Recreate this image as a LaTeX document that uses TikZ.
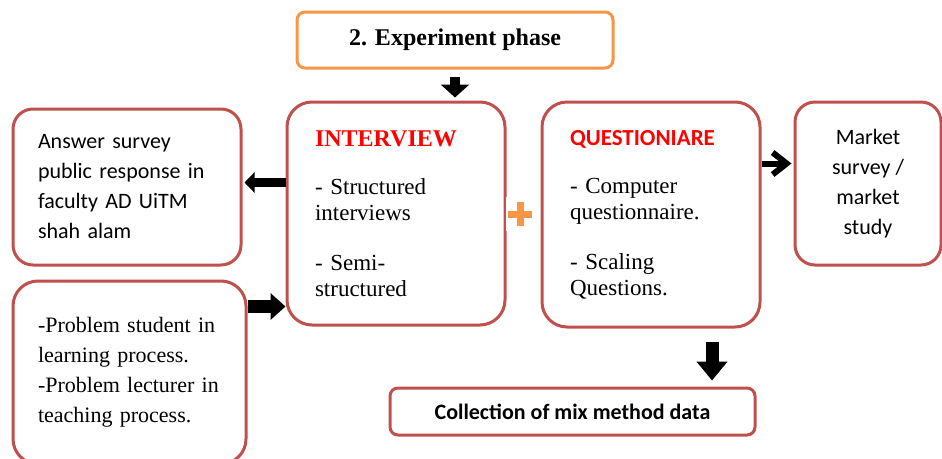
\documentclass[tikz,border=0pt]{standalone}
\usepackage{fontspec}
\setmainfont{Liberation Serif}
\newfontfamily\calib{Carlito}
\usetikzlibrary{arrows.meta}
\definecolor{boxred}{RGB}{192,80,77}
\definecolor{accorange}{RGB}{247,150,70}
\definecolor{titlered}{RGB}{255,0,0}
\tikzset{
  rbox/.style={draw=boxred, line width=3pt, fill=white, rounded corners=#1, inner sep=0pt},
  rbox/.default=20pt,
  blk/.style={draw=black, line width=#1},
}
\begin{document}
\begin{tikzpicture}[x=1pt,y=-1pt]
\useasboundingbox (0,0) rectangle (942,458);

\node[rbox=8pt, draw=accorange, minimum width=316pt, minimum height=56pt,
      font=\fontsize{24}{28}\selectfont\bfseries] (exp) at (455,40) {2. Experiment phase};

\node[rbox=25pt, minimum width=218pt, minimum height=223pt, text width=162pt, inner xsep=28pt,
      align=left, font=\fontsize{23}{26}\selectfont] (int) at (396,213.5)
  {{\fontsize{24}{26}\selectfont\bfseries\color{titlered}INTERVIEW}\\[22pt]
   - Structured\\ interviews\\[24pt] - Semi-\\ structured};

\node[rbox=25pt, minimum width=218pt, minimum height=225pt, text width=162pt, inner xsep=28pt,
      align=left, font=\fontsize{23}{26}\selectfont] (q) at (651,214.5)
  {{\calib\fontsize{23}{26}\selectfont\bfseries\color{titlered}QUESTIONIARE}\\[22pt]
   - Computer\\ questionnaire.\\[24pt] - Scaling\\ Questions.};

\node[rbox=20pt, minimum width=228pt, minimum height=156pt, text width=178pt, inner xsep=25pt,
      align=left, font=\calib\fontsize{22}{30}\selectfont] (ans) at (127,187)
  {Answer survey\\ public response in\\ faculty AD UiTM\\ shah alam};

\node[rbox=25pt, minimum width=233pt, minimum height=183pt, text width=183pt, inner xsep=25pt,
      align=left, font=\fontsize{22}{30}\selectfont] (prob) at (129.5,372.5)
  {-Problem student in\\ learning process.\\ -Problem lecturer in\\ teaching process.};

\node[rbox=20pt, minimum width=146pt, minimum height=163pt, align=center,
      font=\calib\fontsize{22}{30}\selectfont] (mkt) at (868,183.5)
  {Market\\ survey /\\ market\\ study};

\node[rbox=8pt, minimum width=365pt, minimum height=47pt,
      font=\calib\fontsize{22}{26}\selectfont\bfseries] (coll) at (572.5,411.5)
  {Collection of mix method data};

% plus sign
\node[fill=white, minimum width=28pt, minimum height=34pt, inner sep=0pt] (plus) at (520,214) {};
\fill[accorange] ([shift={(-12pt,-3.5pt)}]plus.center) rectangle ([shift={(12pt,3.5pt)}]plus.center);
\fill[accorange] ([shift={(-3.5pt,-12pt)}]plus.center) rectangle ([shift={(3.5pt,12pt)}]plus.center);

% arrows
\draw[blk=10pt, -{Triangle[length=13pt,width=28pt]}, shorten <=7pt, shorten >=3pt]
  (exp.south) -- (exp.south |- int.north);
\draw[blk=9pt, -{Triangle[length=10pt,width=20pt]}, shorten >=2pt]
  ([yshift=4.5pt]ans.east -| int.west) -- ([yshift=4.5pt]ans.east);
\draw[blk=13pt, -{Triangle[length=15pt,width=26pt]}]
  ([yshift=66pt]prob.east) -- ([yshift=66pt]prob.east -| int.west);
\draw[blk=6pt, -{Straight Barb[length=14pt,width=22pt]}, shorten >=2pt]
  ([yshift=20pt]mkt.west -| q.east) -- ([yshift=20pt]mkt.west);
\draw[blk=13pt, -{Triangle[length=19pt,width=30pt]}, shorten <=13pt, shorten >=6pt]
  ([xshift=61pt]q.south) -- ([xshift=61pt]q.south |- coll.north);
\end{tikzpicture}
\end{document}
